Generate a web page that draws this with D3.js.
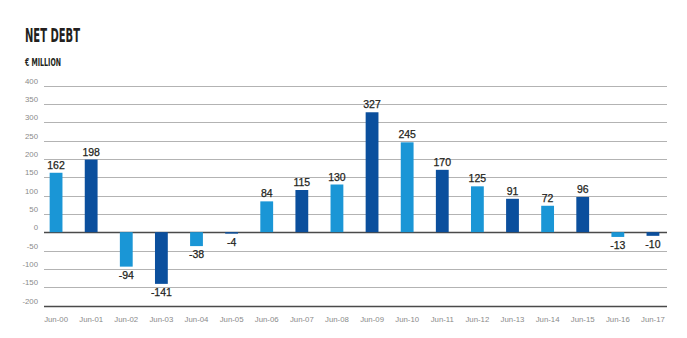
<!DOCTYPE html>
<html>
<head>
<meta charset="utf-8">
<script src="https://cdn.jsdelivr.net/npm/d3@7"></script>
<style>
  html, body { margin: 0; padding: 0; background: #fff; }
  svg { display: block; }
</style>
</head>
<body>
<svg id="chart" width="687" height="338"></svg>
<script>
// Net debt at each June year-end, € million
const periods = ["Jun-00","Jun-01","Jun-02","Jun-03","Jun-04","Jun-05","Jun-06","Jun-07","Jun-08",
                 "Jun-09","Jun-10","Jun-11","Jun-12","Jun-13","Jun-14","Jun-15","Jun-16","Jun-17"];
const netDebt = [162, 198, -94, -141, -38, -4, 84, 115, 130, 327, 245, 170, 125, 91, 72, 96, -13, -10];
const yTicks = [400, 350, 300, 250, 200, 150, 100, 50, 0, -50, -100, -150, -200];
const barColors = ["#1a96d6", "#0b4f9d"];

const svg = d3.select("#chart");

const x = d3.scaleBand().domain(periods).range([38.5, 670.5]).paddingInner(0.635).paddingOuter(0.3175);
const y = d3.scaleLinear().domain([-200, 400]).range([305.5, 85.5]);

const gridX0 = 44, gridX1 = 667;

// Title block
svg.append("text").attr("x", 25).attr("y", 42)
  .attr("font-family", "'DejaVu Sans Condensed', 'Liberation Sans Narrow', 'DejaVu Sans', sans-serif")
  .attr("font-weight", "bold").attr("font-size", 20).attr("fill", "#231f20")
  .attr("textLength", 55).attr("lengthAdjust", "spacingAndGlyphs")
  .text("NET DEBT");
svg.append("text").attr("x", 25).attr("y", 66)
  .attr("font-family", "'DejaVu Sans Condensed', 'Liberation Sans Narrow', 'DejaVu Sans', sans-serif")
  .attr("font-weight", "bold").attr("font-size", 10.5).attr("fill", "#231f20")
  .attr("textLength", 36).attr("lengthAdjust", "spacingAndGlyphs")
  .text("€ MILLION");

// Horizontal gridlines and value axis labels
const grid = svg.append("g");
grid.selectAll("line").data(yTicks).join("line")
  .attr("x1", gridX0).attr("x2", gridX1)
  .attr("y1", d => Math.round(y(d)) + 0.5).attr("y2", d => Math.round(y(d)) + 0.5)
  .attr("stroke", d => (d === 0 || d === -200) ? "#4a4a4a" : "#b3b3b3")
  .attr("stroke-width", d => (d === 0 || d === -200) ? 1.3 : 1.1);

svg.append("g").selectAll("text").data(yTicks).join("text")
  .attr("x", 38).attr("y", d => y(d) - 2)
  .attr("text-anchor", "end")
  .attr("font-family", "'Liberation Sans', Arial, sans-serif")
  .attr("font-size", 7.8).attr("fill", "#8a8a8a")
  .text(d => d);

// Bars, alternating shades
svg.append("g").selectAll("rect").data(netDebt).join("rect")
  .attr("x", (d, i) => x(periods[i]))
  .attr("width", x.bandwidth())
  .attr("y", d => y(Math.max(0, d)))
  .attr("height", d => Math.abs(y(d) - y(0)))
  .attr("fill", (d, i) => barColors[i % 2]);

// Value labels
svg.append("g").selectAll("text").data(netDebt).join("text")
  .attr("x", (d, i) => x(periods[i]) + x.bandwidth() / 2)
  .attr("y", d => d >= 0 ? y(d) - 4 : y(d) + 12)
  .attr("text-anchor", "middle")
  .attr("font-family", "'Liberation Sans', Arial, sans-serif")
  .attr("font-size", 10.5).attr("fill", "#231f20")
  .attr("stroke", "#231f20").attr("stroke-width", 0.25)
  .text(d => d);

// Period labels
svg.append("g").selectAll("text").data(periods).join("text")
  .attr("x", d => x(d) + x.bandwidth() / 2)
  .attr("y", 322)
  .attr("text-anchor", "middle")
  .attr("font-family", "'Liberation Sans', Arial, sans-serif")
  .attr("font-size", 7.8).attr("fill", "#8a8a8a")
  .text(d => d);
</script>
</body>
</html>
